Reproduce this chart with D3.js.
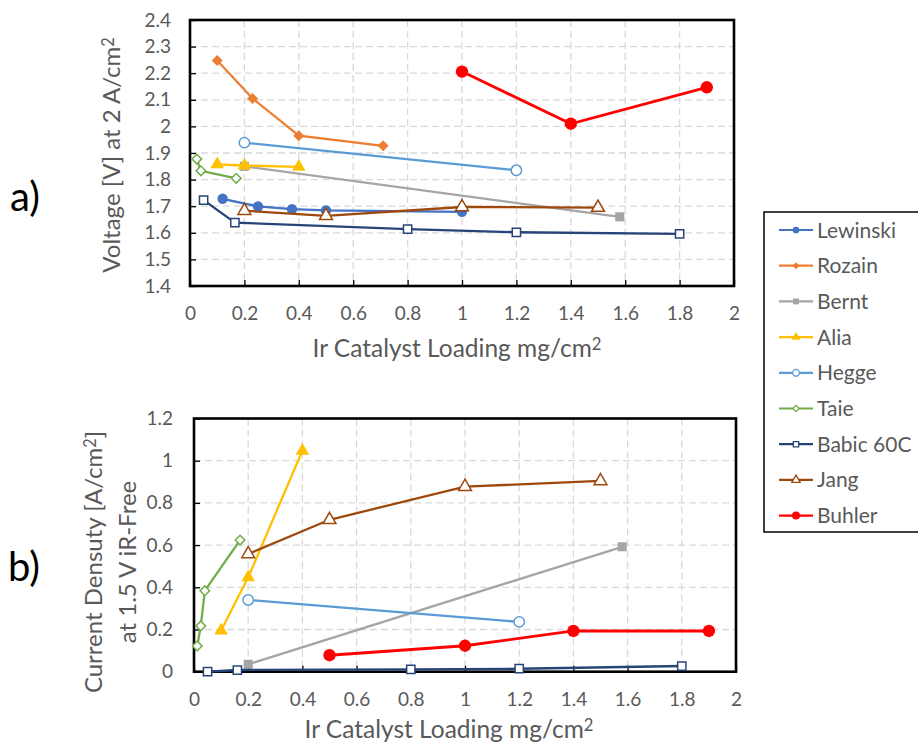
<!DOCTYPE html>
<html>
<head>
<meta charset="utf-8">
<script src="https://cdn.jsdelivr.net/npm/d3@7"></script>
<style>
  body { margin: 0; background: #fff; }
  svg text { font-family: Lato, "Open Sans", sans-serif; fill: #595959; }
</style>
</head>
<body>
<svg id="chart" width="918" height="744"></svg>
<script>
// Series names / legend order
const seriesNames = ["Lewinski", "Rozain", "Bernt", "Alia", "Hegge", "Taie", "Babic 60C", "Jang", "Buhler"];
const seriesColors = ["#4472C4", "#ED7D31", "#A5A5A5", "#FFC000", "#5B9BD5", "#70AD47", "#264478", "#9E480E", "#FF0000"];

// x axis (Ir loading, mg/cm2), shared by both panels
const loadingTicks = [0, 0.2, 0.4, 0.6, 0.8, 1, 1.2, 1.4, 1.6, 1.8, 2];
const voltageTicks = [1.4, 1.5, 1.6, 1.7, 1.8, 1.9, 2, 2.1, 2.2, 2.3, 2.4];
const currentTicks = [0, 0.2, 0.4, 0.6, 0.8, 1, 1.2];

// a) voltage at 2 A/cm2  [loading, V]
const vLewinski = [[0.12, 1.728], [0.25, 1.699], [0.375, 1.689], [0.5, 1.684], [1.0, 1.679]];
const vRozain = [[0.1, 2.248], [0.23, 2.105], [0.4, 1.965], [0.71, 1.927]];
const vBernt = [[0.2, 1.85], [1.58, 1.66]];
const vAlia = [[0.1, 1.857], [0.2, 1.853], [0.4, 1.848]];
const vHegge = [[0.2, 1.939], [1.2, 1.835]];
const vTaie = [[0.025, 1.877], [0.04, 1.833], [0.17, 1.805]];
const vBabic = [[0.05, 1.723], [0.165, 1.638], [0.8, 1.614], [1.2, 1.602], [1.8, 1.596]];
const vJang = [[0.2, 1.683], [0.5, 1.664], [1.0, 1.697], [1.5, 1.695]];
const vBuhler = [[1.0, 2.206], [1.4, 2.01], [1.9, 2.147]];

// b) current density at 1.5 V iR-free  [loading, A/cm2]
const jBernt = [[0.2, 0.035], [1.58, 0.592]];
const jAlia = [[0.1, 0.195], [0.2, 0.447], [0.4, 1.047]];
const jHegge = [[0.2, 0.34], [1.2, 0.236]];
const jTaie = [[0.012, 0.122], [0.025, 0.217], [0.04, 0.384], [0.17, 0.624]];
const jBabic = [[0.05, 0.0], [0.16, 0.008], [0.8, 0.011], [1.2, 0.014], [1.8, 0.027]];
const jJang = [[0.2, 0.558], [0.5, 0.72], [1.0, 0.877], [1.5, 0.904]];
const jBuhler = [[0.5, 0.078], [1.0, 0.123], [1.4, 0.193], [1.9, 0.193]];

// marker style per series: shape, filled?, size (area)
const markers = {
  "Lewinski": { type: d3.symbolCircle, fill: true, size: 85 },
  "Rozain": { type: "diamond", fill: true, size: 60 },
  "Bernt": { type: d3.symbolSquare, fill: true, size: 82 },
  "Alia": { type: d3.symbolTriangle, fill: true, size: 80 },
  "Hegge": { type: d3.symbolCircle, fill: false, size: 85 },
  "Taie": { type: "diamond", fill: false, size: 46 },
  "Babic 60C": { type: d3.symbolSquare, fill: false, size: 68 },
  "Jang": { type: d3.symbolTriangle, fill: false, size: 72 },
  "Buhler": { type: d3.symbolCircle, fill: true, size: 120 }
};

const svg = d3.select("#chart");

function symbolPath(name, scale) {
  const m = markers[name];
  const t = m.type === "diamond" ? d3.symbolSquare : m.type;
  return d3.symbol().type(t).size(m.size * scale)();
}

// text with a raised "2" after cm
function unitText(sel, parts) {
  sel.append("tspan").text(parts[0]);
  sel.append("tspan").attr("dy", "-0.42em").style("font-size", "0.68em").text("2");
  if (parts[1]) sel.append("tspan").attr("dy", "0.29em").text(parts[1]);
}

function drawPanel(p) {
  const x = d3.scaleLinear().domain([0, 2]).range([p.left, p.right]);
  const y = d3.scaleLinear().domain(p.yDomain).range([p.bottom, p.top]);
  const g = svg.append("g");

  // dashed grid
  g.selectAll(".vg").data(p.xTicks.slice(1, -1)).enter().append("line")
    .attr("x1", d => x(d)).attr("x2", d => x(d))
    .attr("y1", p.top).attr("y2", p.bottom)
    .attr("stroke", "#d9d9d9").attr("stroke-width", 1.3).attr("stroke-dasharray", "7,4");
  g.selectAll(".hg").data(p.yTicks.slice(1, -1)).enter().append("line")
    .attr("y1", d => y(d)).attr("y2", d => y(d))
    .attr("x1", p.left).attr("x2", p.right)
    .attr("stroke", "#d9d9d9").attr("stroke-width", 1.3).attr("stroke-dasharray", "7,4");

  // axes, ticks pointing inward
  const xAxis = d3.axisBottom(x).tickValues(p.xTicks).tickFormat(d => String(d))
    .tickSizeInner(-6).tickSizeOuter(0).tickPadding(21);
  const yAxis = d3.axisLeft(y).tickValues(p.yTicks).tickFormat(d => String(d))
    .tickSizeInner(-6).tickSizeOuter(0).tickPadding(p.yPad);

  const gx = g.append("g").attr("transform", `translate(0,${p.bottom})`).call(xAxis);
  const gy = g.append("g").attr("transform", `translate(${p.left},0)`).call(yAxis);
  [gx, gy].forEach(a => {
    a.select(".domain").remove();
    a.selectAll("line").attr("stroke", "#000").attr("stroke-width", 1.3);
    a.selectAll("text").style("font-size", "19px").attr("fill", "#595959");
  });

  // frame
  g.append("rect")
    .attr("x", p.left).attr("y", p.top)
    .attr("width", p.right - p.left).attr("height", p.bottom - p.top)
    .attr("fill", "none").attr("stroke", "#000").attr("stroke-width", 2.6);

  // series
  const line = d3.line().x(d => x(d[0])).y(d => y(d[1]));
  p.series.forEach(s => {
    const i = seriesNames.indexOf(s.name);
    const color = seriesColors[i];
    const m = markers[s.name];
    g.append("path").datum(s.values)
      .attr("d", line)
      .attr("fill", "none").attr("stroke", color)
      .attr("stroke-width", s.name === "Buhler" ? 2.8 : 2.3);
    g.selectAll(null).data(s.values).enter().append("path")
      .attr("d", symbolPath(s.name, 1))
      .attr("transform", d => `translate(${x(d[0])},${y(d[1])})` + (m.type === "diamond" ? " rotate(45)" : ""))
      .attr("fill", m.fill ? color : "#fff")
      .attr("stroke", color).attr("stroke-width", m.fill ? 0 : 1.5);
  });

  // axis titles
  g.append("text")
    .attr("x", p.xTitleX).attr("y", p.xTitleY)
    .attr("text-anchor", "middle").style("font-size", "24.5px")
    .call(unitText, ["Ir Catalyst Loading mg/cm"]);

  p.yTitle.forEach(t => {
    g.append("text")
      .attr("transform", `translate(${t.x},${t.y}) rotate(-90)`)
      .attr("dy", "0.35em")
      .attr("text-anchor", "middle").style("font-size", "24px")
      .call(sel => t.parts ? unitText(sel, t.parts) : sel.text(t.text));
  });

  svg.append("text")
    .attr("x", p.tagX).attr("y", p.tagY)
    .style("font-size", "40px").style("fill", "#000")
    .text(p.tag);
}

drawPanel({
  left: 190, right: 734, top: 20, bottom: 286,
  yDomain: [1.4, 2.4], xTicks: loadingTicks, yTicks: voltageTicks, yPad: 19,
  xTitleX: 457, xTitleY: 357,
  yTitle: [{ x: 112, y: 155, parts: ["Voltage [V] at 2 A/cm"] }],
  tag: "a)", tagX: 10, tagY: 211,
  series: [
    { name: "Lewinski", values: vLewinski },
    { name: "Rozain", values: vRozain },
    { name: "Bernt", values: vBernt },
    { name: "Alia", values: vAlia },
    { name: "Hegge", values: vHegge },
    { name: "Taie", values: vTaie },
    { name: "Babic 60C", values: vBabic },
    { name: "Jang", values: vJang },
    { name: "Buhler", values: vBuhler }
  ]
});

drawPanel({
  left: 194, right: 736, top: 418.5, bottom: 671.7,
  yDomain: [0, 1.2], xTicks: loadingTicks, yTicks: currentTicks, yPad: 21,
  xTitleX: 449, xTitleY: 738,
  yTitle: [
    { x: 94, y: 562, parts: ["Current Densuty [A/cm", "]"] },
    { x: 128, y: 562, text: "at 1.5 V iR-Free" }
  ],
  tag: "b)", tagX: 8, tagY: 581,
  series: [
    { name: "Bernt", values: jBernt },
    { name: "Alia", values: jAlia },
    { name: "Hegge", values: jHegge },
    { name: "Taie", values: jTaie },
    { name: "Babic 60C", values: jBabic },
    { name: "Jang", values: jJang },
    { name: "Buhler", values: jBuhler }
  ]
});

// legend
const legend = svg.append("g");
legend.append("rect")
  .attr("x", 764).attr("y", 212).attr("width", 170).attr("height", 320)
  .attr("fill", "#fff").attr("stroke", "#000").attr("stroke-width", 1.5);

const rows = legend.selectAll(".row").data(seriesNames).enter().append("g")
  .attr("transform", (d, i) => `translate(0,${230 + i * 35.7})`);
rows.append("line")
  .attr("x1", 779).attr("x2", 813)
  .attr("stroke", (d, i) => seriesColors[i]).attr("stroke-width", 2.2);
rows.append("path")
  .attr("d", d => symbolPath(d, 0.42))
  .attr("transform", d => "translate(796,0)" + (markers[d].type === "diamond" ? " rotate(45)" : ""))
  .attr("fill", (d, i) => markers[d].fill ? seriesColors[i] : "#fff")
  .attr("stroke", (d, i) => seriesColors[i])
  .attr("stroke-width", d => markers[d].fill ? 0 : 1.3);
rows.append("text")
  .attr("x", 817).attr("dy", "0.36em")
  .style("font-size", "21px")
  .text(d => d);
</script>
</body>
</html>
